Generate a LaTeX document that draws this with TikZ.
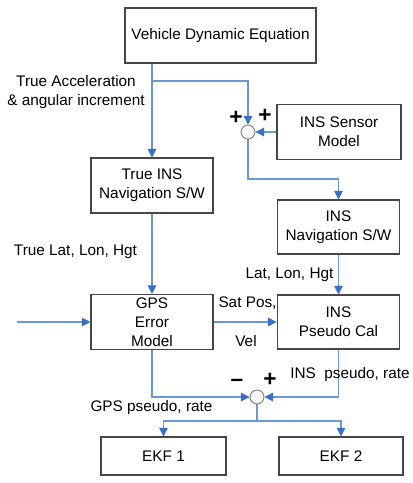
\documentclass[tikz,border=0pt]{standalone}
\usepackage{fontspec}
\setmainfont{Liberation Sans}
\usetikzlibrary{arrows.meta}
\definecolor{lineblue}{RGB}{105,152,212}
\definecolor{tipblue}{RGB}{55,112,200}
\definecolor{boxgray}{RGB}{70,70,70}
\tikzset{
  block/.style = {draw=boxgray, line width=0.8pt, fill=white, align=center,
                  inner sep=2pt, minimum width=#1},
  block/.default = {92pt},
  sumpt/.style = {circle, draw=gray, fill=gray!8, line width=0.7pt,
                  minimum size=10.5pt, inner sep=0pt},
  flow/.style = {lineblue, line width=0.8pt,
                 -{Triangle[width=6.5pt,length=6.5pt,color=tipblue]}},
  wire/.style = {lineblue, line width=0.8pt},
  sign/.style = {font=\fontsize{17}{17}\selectfont\bfseries, inner sep=0pt},
  lbl/.style = {align=center, inner sep=0pt}
}

\begin{document}
\begin{tikzpicture}[x=0.75pt,y=-0.75pt,
    every node/.style={font=\fontsize{11.5}{14.25}\selectfont}]

  \useasboundingbox (0,0) rectangle (413,483);

  % blocks
  \node[block=143.25pt, minimum height=41.25pt] (vde) at (220.5,35.5) {Vehicle Dynamic Equation};
  \node[block=93pt, minimum height=41.25pt] (sensor) at (339,132) {INS Sensor\\Model};
  \node[block=91.5pt, minimum height=41.25pt] (truenav) at (152,185.5) {True INS\\Navigation S/W};
  \node[block, minimum height=40.5pt] (insnav) at (338.5,227) {INS\\Navigation S/W};
  \node[block=91.5pt, minimum height=41.25pt] (gps) at (152,322) {GPS\\Error\\Model};
  \node[block, minimum height=40.5pt] (pseudo) at (338.5,322) {INS\\Pseudo Cal};
  \node[block=93.75pt, minimum height=28.5pt] (ekf1) at (163.5,456) {EKF 1};
  \node[block=93pt, minimum height=28.5pt] (ekf2) at (341,456) {EKF 2};

  % summing points
  \node[sumpt] (sum1) at (248,132) {};
  \node[sumpt] (sum2) at (257,397) {};

  \coordinate (split) at (152,81);
  \coordinate (gpsin) at (17,322);
  \coordinate (fork) at (257,421);

  % connections
  \draw[flow] (vde.south -| truenav.north) -- (truenav);
  \draw[flow] (split) -| (sum1);
  \draw[flow] (sensor) -- (sum1);
  \draw[flow] (sum1) -- ++(0,47) -| (insnav);
  \draw[flow] (truenav) -- (gps);
  \draw[flow] (insnav) -- (pseudo);
  \draw[flow] (gpsin) -- (gps);
  \draw[flow] (gps) -- (pseudo);
  \draw[flow] (gps) |- (sum2);
  \draw[flow] (pseudo) |- (sum2);
  \draw[wire] (sum2) -- (fork);
  \draw[flow] (fork) -| (ekf1);
  \draw[flow] (fork) -| (ekf2);

  % signal labels
  \node[lbl] (acc) at (76,92) {True Acceleration\\\& angular increment};
  \node[lbl] (truepos) at (75.5,252) {True Lat, Lon, Hgt};
  \node[lbl] (inspos) at (289.5,275) {Lat, Lon, Hgt};
  \node[lbl] (satpos) at (247.5,303) {Sat Pos,};
  \node[lbl] (vel) at (246,341) {Vel};
  \node[lbl] (inspr) at (350,375) {INS\ \ pseudo, rate};
  \node[lbl] (gpspr) at (151.5,408) {GPS pseudo, rate};

  % signs at the summing points
  \node[sign] at (236,118) {+};
  \node[sign] at (265,116) {+};
  \node[sign] at (237,383) {\textendash};
  \node[sign] at (270,380) {+};
\end{tikzpicture}
\end{document}
